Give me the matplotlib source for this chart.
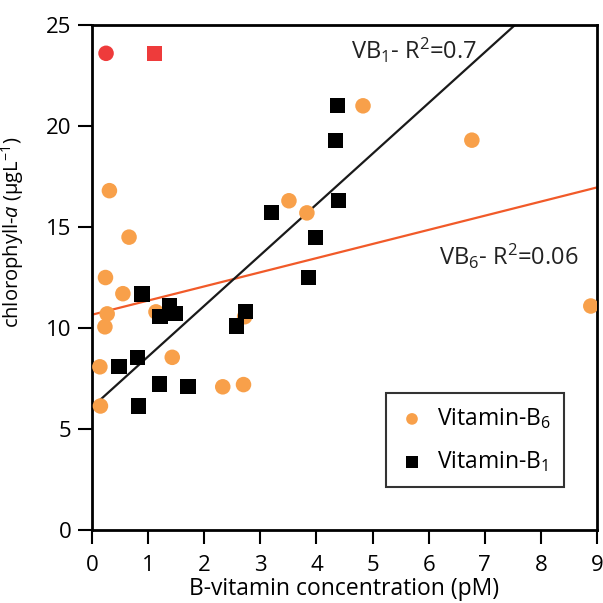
import numpy as np
import matplotlib
matplotlib.use('Agg')
import matplotlib.pyplot as plt

# Vitamin-B1 (squares)
b1_x = [0.48, 0.81, 0.83, 0.89, 1.20, 1.21, 1.38, 1.48, 1.71, 2.57, 2.73, 3.20, 3.86, 3.99, 4.34, 4.38, 4.39]
b1_y = [8.08, 8.55, 6.14, 11.68, 7.23, 10.56, 11.09, 10.73, 7.09, 10.1, 10.8, 15.7, 12.5, 14.5, 19.29, 21.0, 16.32]

# Vitamin-B6 (circles)
b6_x = [0.14, 0.15, 0.23, 0.24, 0.27, 0.31, 0.55, 0.66, 1.14, 1.43, 2.33, 2.70, 2.72, 3.51, 3.83, 4.83, 6.77, 8.89]
b6_y = [8.08, 6.14, 10.06, 12.5, 10.7, 16.8, 11.7, 14.5, 10.8, 8.55, 7.09, 7.2, 10.56, 16.3, 15.7, 21.0, 19.3, 11.09]

# red points at the top
red_circle = (0.25, 23.6)
red_square = (1.12, 23.6)

# regression lines (slope, intercept) and their x-range
b1_fit = (2.51, 6.08)
b1_range = (0.15, 9.0)
b6_fit = (0.70, 10.66)
b6_range = (0.0, 9.0)

plt.rcParams['font.family'] = ['Open Sans', 'DejaVu Sans']
plt.rcParams['mathtext.fontset'] = 'custom'
plt.rcParams['mathtext.rm'] = 'Open Sans'
plt.rcParams['mathtext.it'] = 'Open Sans:italic'

orange = '#F8A04A'
line_orange = '#F15A29'
red = '#EE3B3B'

fig = plt.figure(figsize=(6.03, 6.03), dpi=100)
ax = fig.add_axes([0.1526, 0.121, 0.8374, 0.8375])

xs = np.array(b6_range)
ax.plot(xs, b6_fit[0] * xs + b6_fit[1], color=line_orange, lw=1.6, zorder=2)
xs = np.array(b1_range)
ax.plot(xs, b1_fit[0] * xs + b1_fit[1], color='#1a1a1a', lw=1.6, zorder=2)

ax.scatter(b6_x, b6_y, s=125, marker='o', color=orange, edgecolors='none', zorder=3, label='Vitamin-B$_6$')
ax.scatter(b1_x, b1_y, s=120, marker='s', color='black', edgecolors='none', zorder=3, label='Vitamin-B$_1$')
ax.scatter(*red_circle, s=125, marker='o', color=red, edgecolors='none', zorder=3)
ax.scatter(*red_square, s=120, marker='s', color=red, edgecolors='none', zorder=3)

ax.text(4.62, 23.76, 'VB$_1$- R$^2$=0.7', fontsize=17, va='center', ha='left', color='#222222')
ax.text(6.18, 13.56, 'VB$_6$- R$^2$=0.06', fontsize=17, va='center', ha='left', color='#222222')

ax.set_xlim(0, 9)
ax.set_ylim(0, 25)
ax.set_xticks(range(0, 10))
ax.set_yticks(range(0, 26, 5))
ax.tick_params(direction='out', length=10, width=1.5, labelsize=16)
ax.tick_params(axis='x', pad=8)
ax.tick_params(axis='y', pad=5)
for sp in ax.spines.values():
    sp.set_linewidth(2)

ax.set_xlabel('B-vitamin concentration (pM)', fontsize=16.5, labelpad=1)
ax.set_ylabel('chlorophyll-$\\mathit{a}$ (µgL$^{-1}$)', fontsize=14.5)
ax.yaxis.set_label_coords(-0.13, 0.59)

leg = ax.legend(loc='lower right', bbox_to_anchor=(0.957, 0.063), fontsize=16.5, markerscale=0.75,
                fancybox=False, edgecolor='#333333', framealpha=1, handletextpad=0.5,
                borderpad=0.55, labelspacing=0.8, handlelength=1.2)
leg.get_frame().set_linewidth(1.5)

fig.savefig('out.png', dpi=100)
